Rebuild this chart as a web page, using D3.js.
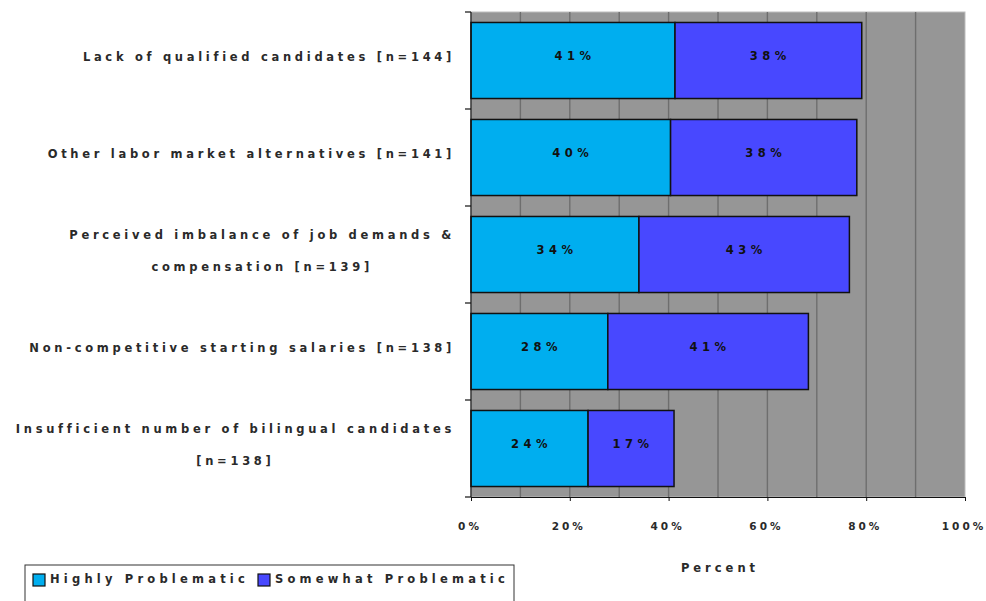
<!DOCTYPE html>
<html><head><meta charset="utf-8">
<script src="https://cdn.jsdelivr.net/npm/d3@7"></script>
<style>
html,body{margin:0;padding:0;background:#fff;}
svg{display:block;}
text{font-family:"DejaVu Sans",sans-serif;}
</style></head>
<body>
<script>
const categories = [
  ["Lack of qualified candidates [n=144]"],
  ["Other labor market alternatives [n=141]"],
  ["Perceived imbalance of job demands &", "compensation [n=139]"],
  ["Non-competitive starting salaries [n=138]"],
  ["Insufficient number of bilingual candidates", "[n=138]"]
];
const seriesNames = ["Highly Problematic", "Somewhat Problematic"];
const highly = [41.3, 40.4, 34.0, 27.7, 23.7];
const somewhat = [37.8, 37.7, 42.6, 40.6, 17.4];
const highlyLabels = ["41%", "40%", "34%", "28%", "24%"];
const somewhatLabels = ["38%", "38%", "43%", "41%", "17%"];
const xTicks = [0, 20, 40, 60, 80, 100];
const gridValues = [10, 20, 30, 40, 50, 60, 70, 80, 90];
const axisTitle = "Percent";
const colors = ["#00AEEF", "#4848FF"];

const W = 986, H = 601;
const svg = d3.select("body").append("svg").attr("width", W).attr("height", H);

const x = d3.scaleLinear().domain([0, 100]).range([471, 965]);
const y = d3.scaleBand().domain(d3.range(categories.length)).range([12, 497])
  .paddingInner(0.216).paddingOuter(0.108);

const txtStyle = (sel, ls) => sel.attr("font-size", 11.5).attr("font-weight", "bold")
  .attr("letter-spacing", (ls || 3.7) + "px").attr("fill", "#2a2a2a");

// plot background
svg.append("rect").attr("x", x(0)).attr("y", y.range()[0])
  .attr("width", x(100) - x(0)).attr("height", y.range()[1] - y.range()[0])
  .attr("fill", "#969696").attr("stroke", "#bdbdbd").attr("stroke-width", 1);

// gridlines
svg.append("g").selectAll("line").data(gridValues).join("line")
  .attr("x1", d => x(d)).attr("x2", d => x(d))
  .attr("y1", y.range()[0]).attr("y2", y.range()[1])
  .attr("stroke", "#6e6e6e").attr("stroke-width", 1.4);

// stacked bars
const stackData = categories.map((c, i) => ({i, h: highly[i], s: somewhat[i]}));
const stack = d3.stack().keys(["h", "s"])(stackData);
const labelsBy = [highlyLabels, somewhatLabels];

stack.forEach((layer, k) => {
  const g = svg.append("g");
  g.selectAll("rect").data(layer).join("rect")
    .attr("x", d => x(d[0])).attr("width", d => x(d[1]) - x(d[0]))
    .attr("y", d => y(d.data.i)).attr("height", y.bandwidth())
    .attr("fill", colors[k]).attr("stroke", "#111").attr("stroke-width", 1.5);
  g.selectAll("text").data(layer).join("text")
    .attr("x", d => (x(d[0]) + x(d[1])) / 2 + 2)
    .attr("y", d => y(d.data.i) + y.bandwidth() / 2 - 4)
    .attr("text-anchor", "middle").attr("dominant-baseline", "middle")
    .text(d => labelsBy[k][d.data.i])
    .call(txtStyle, 4.5).attr("fill", "#111");
});

// left axis line and ticks at band boundaries
svg.append("line").attr("x1", x(0)).attr("x2", x(0))
  .attr("y1", y.range()[0]).attr("y2", y.range()[1]).attr("stroke", "#111").attr("stroke-width", 1.2);
const bounds = d3.range(categories.length + 1).map(i => y.range()[0] + i * y.step());
svg.append("g").selectAll("line").data(bounds).join("line")
  .attr("x1", x(0) - 6).attr("x2", x(0)).attr("y1", d => d).attr("y2", d => d)
  .attr("stroke", "#111").attr("stroke-width", 1.2);

// bottom axis
const ax = svg.append("g").attr("transform", `translate(0,${y.range()[1]})`)
  .call(d3.axisBottom(x).tickValues(xTicks).tickFormat(d => d + "%").tickSize(4).tickSizeOuter(0).tickPadding(22));
ax.select(".domain").attr("stroke", "#111").attr("stroke-width", 1.2);
ax.selectAll(".tick line").attr("stroke", "#111");
ax.selectAll(".tick text").call(txtStyle, 3.0).attr("font-size", 10.5).attr("font-family", "DejaVu Sans")
  .attr("dx", -1.5);

// category labels
const labelRight = 455;
categories.forEach((lines, i) => {
  const cy = y(i) + y.bandwidth() / 2;
  const lh = 32;
  const g = svg.append("g");
  const ts = lines.map((ln, j) => g.append("text")
    .attr("y", cy + (j - (lines.length - 1) / 2) * lh - 3)
    .attr("dominant-baseline", "middle").text(ln).call(txtStyle, 3.7));
  const maxW = d3.max(ts, t => t.node().getComputedTextLength());
  ts.forEach(t => t.attr("x", labelRight - maxW / 2).attr("text-anchor", "middle"));
});

// axis title
svg.append("text").attr("x", (x(0) + x(100)) / 2 + 2).attr("y", 572).attr("text-anchor", "middle")
  .text(axisTitle).call(txtStyle, 4);

// legend
const lg = svg.append("g");
lg.append("rect").attr("x", 25).attr("y", 565).attr("width", 489).attr("height", 50)
  .attr("fill", "#fff").attr("stroke", "#333").attr("stroke-width", 1);
const legX = [33, 258];
seriesNames.forEach((n, k) => {
  lg.append("rect").attr("x", legX[k]).attr("y", 574).attr("width", 12).attr("height", 12)
    .attr("fill", colors[k]).attr("stroke", "#111").attr("stroke-width", 1.2);
  lg.append("text").attr("x", legX[k] + 17).attr("y", 583).text(n).call(txtStyle, 4.2);
});
</script>
</body></html>
